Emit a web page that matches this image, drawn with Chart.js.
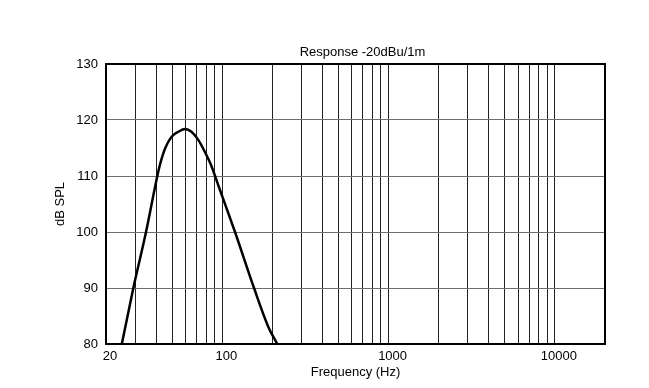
<!DOCTYPE html>
<html>
<head>
<meta charset="utf-8">
<script src="https://cdn.jsdelivr.net/npm/chart.js@4.4.1/dist/chart.umd.min.js"></script>
<style>
  html, body { margin: 0; padding: 0; background: #fff; }
  #wrap { width: 649px; height: 388px; }
</style>
</head>
<body>
<div id="wrap"><canvas id="resp" width="649" height="388"></canvas></div>
<script>
// Response curve (Hz, dB SPL)
const freqs = [24.9, 29.2, 34.8, 39.1, 40.7, 42.2, 45.3, 49.6, 54.5, 59.8, 65.3, 71.9, 78.6, 85.5, 90.5, 96.9, 119.3, 155.2, 189, 214];
const spl   = [80,   90,   100,  107.5, 110, 112.0, 114.9, 117.0, 117.9, 118.4, 117.9, 116.4, 114.3, 112.0, 110, 107.5, 100, 90, 83.1, 80];

// Grid / tick values
const gridFreqs = [20, 30, 40, 50, 60, 70, 80, 90, 100, 200, 300, 400, 500, 600, 700, 800, 900,
                   1000, 2000, 3000, 4000, 5000, 6000, 7000, 8000, 9000, 10000, 20000];
const freqLabels = [20, 100, 1000, 10000];
const splTicks = [80, 90, 100, 110, 120, 130];

const chartTitle = 'Response -20dBu/1m';
const FONT = "'Liberation Sans', Arial, Helvetica, sans-serif";

// Title drawn centered a bit right of the plot center, like the original
const titlePlugin = {
    id: 'topTitle',
    afterDraw(chart) {
        const ctx = chart.ctx;
        const area = chart.chartArea;
        ctx.save();
        ctx.font = '13px ' + FONT;
        ctx.fillStyle = '#000';
        ctx.textAlign = 'center';
        ctx.textBaseline = 'middle';
        ctx.fillText(chartTitle, (area.left + area.right) / 2 + 7, 52);
        ctx.restore();
    }
};

function initChart() {
    const ctx = document.getElementById('resp').getContext('2d');
    const points = freqs.map((f, i) => ({ x: f, y: spl[i] }));

    new Chart(ctx, {
        type: 'line',
        data: {
            datasets: [{
                data: points,
                borderColor: '#000',
                borderWidth: 2.5,
                pointRadius: 0,
                fill: false,
                cubicInterpolationMode: 'monotone'
            }]
        },
        options: {
            responsive: false,
            animation: false,
            layout: { padding: 0 },
            plugins: { legend: { display: false }, tooltip: { enabled: false } },
            scales: {
                x: {
                    type: 'logarithmic',
                    position: 'bottom',
                    min: 20, max: 20000,
                    afterBuildTicks: (scale) => { scale.ticks = gridFreqs.map(v => ({ value: v })); },
                    afterFit: (scale) => { scale.height = 44; },
                    ticks: {
                        autoSkip: false, maxRotation: 0, minRotation: 0,
                        padding: 5, labelOffset: 4,
                        color: '#000', font: { family: FONT, size: 13 },
                        callback: (v) => freqLabels.includes(v) ? String(v) : ''
                    },
                    grid: { color: '#222', lineWidth: 1, drawTicks: false },
                    border: { display: true, color: '#000', width: 2 },
                    title: { display: true, text: 'Frequency (Hz)', color: '#000',
                             font: { family: FONT, size: 13 }, padding: { top: 0, bottom: 8 } }
                },
                y: {
                    type: 'linear',
                    position: 'left',
                    min: 80, max: 130,
                    afterBuildTicks: (scale) => { scale.ticks = splTicks.map(v => ({ value: v })); },
                    afterFit: (scale) => { scale.width = 106; },
                    ticks: { padding: 8, color: '#000', font: { family: FONT, size: 13 } },
                    grid: { color: '#6e6e6e', lineWidth: 1, drawTicks: false },
                    border: { display: true, color: '#000', width: 2 },
                    title: { display: true, text: 'dB SPL', color: '#000',
                             font: { family: FONT, size: 13 }, padding: { top: 53, bottom: 0 } }
                },
                x2: {
                    type: 'linear',
                    position: 'top',
                    afterFit: (scale) => { scale.height = 64; },
                    ticks: { display: false },
                    grid: { display: false, drawTicks: false },
                    border: { display: true, color: '#000', width: 2 }
                },
                y2: {
                    type: 'linear',
                    position: 'right',
                    afterFit: (scale) => { scale.width = 44; },
                    ticks: { display: false },
                    grid: { display: false, drawTicks: false },
                    border: { display: true, color: '#000', width: 2 }
                }
            }
        },
        plugins: [titlePlugin]
    });
}

window.onload = () => {
    initChart();
};
</script>
</body>
</html>
